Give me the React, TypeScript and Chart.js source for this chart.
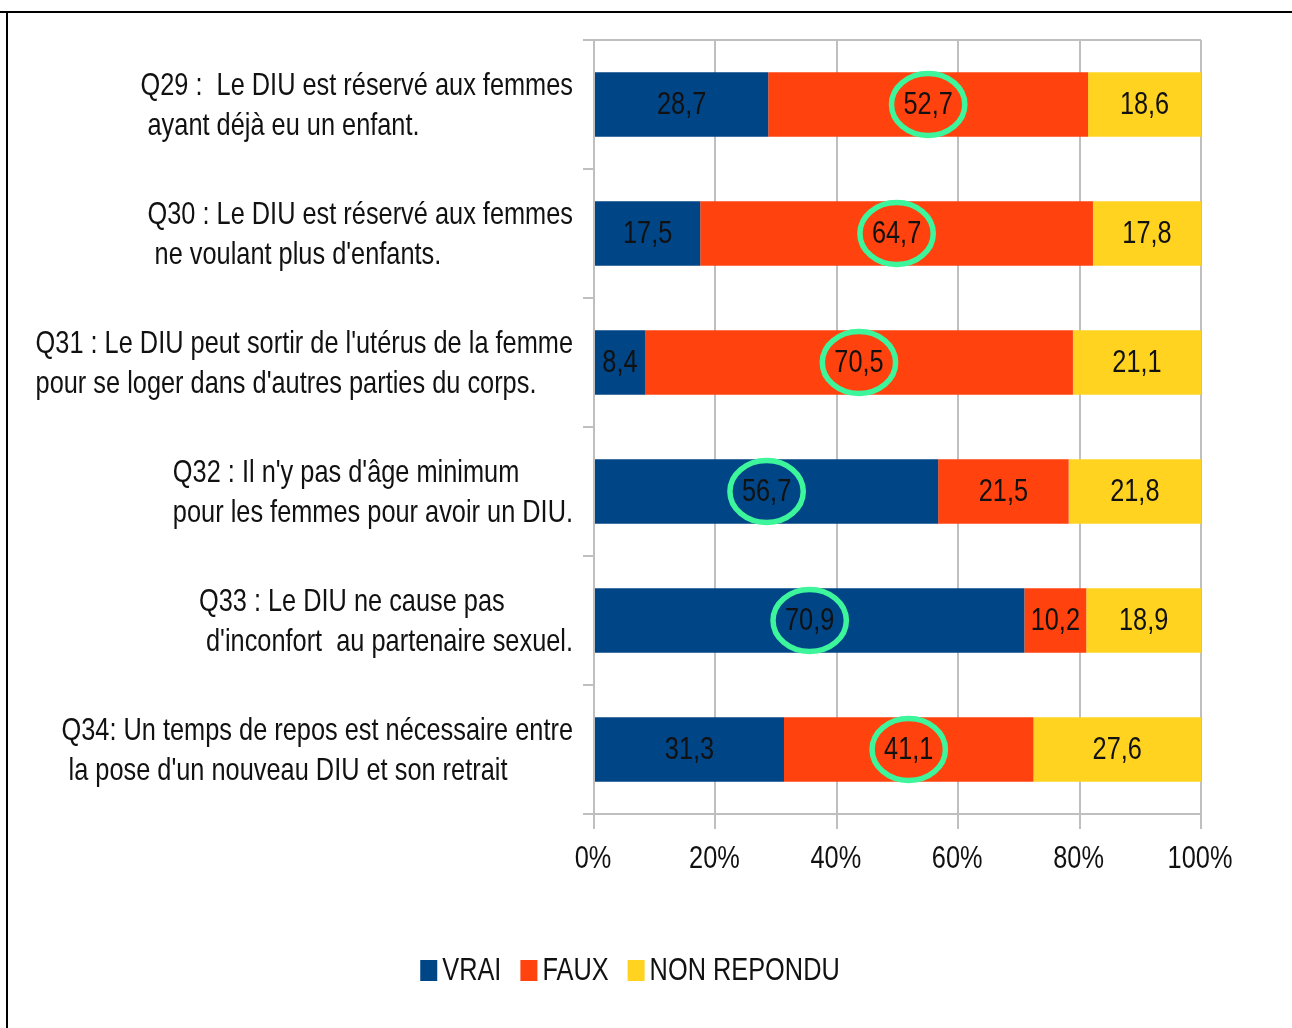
import React, { useEffect, useRef } from "react";
import { Chart, registerables } from "chart.js";

Chart.register(...registerables);

const CATEGORY_LINES: string[][] = [
  ["Q29 :  Le DIU est réservé aux femmes", " ayant déjà eu un enfant."],
  ["Q30 : Le DIU est réservé aux femmes", " ne voulant plus d'enfants."],
  ["Q31 : Le DIU peut sortir de l'utérus de la femme", "pour se loger dans d'autres parties du corps."],
  ["Q32 : Il n'y pas d'âge minimum", "pour les femmes pour avoir un DIU."],
  ["Q33 : Le DIU ne cause pas", " d'inconfort  au partenaire sexuel."],
  ["Q34: Un temps de repos est nécessaire entre", " la pose d'un nouveau DIU et son retrait"],
];

const SERIES_NAMES = ["VRAI", "FAUX", "NON REPONDU"];
const VRAI = [28.7, 17.5, 8.4, 56.7, 70.9, 31.3];
const FAUX = [52.7, 64.7, 70.5, 21.5, 10.2, 41.1];
const NON_REPONDU = [18.6, 17.8, 21.1, 21.8, 18.9, 27.6];
// index of the series whose value is circled for each question
const CIRCLED_SERIES = [1, 1, 1, 0, 0, 1];

const X_MIN = 0;
const X_MAX = 100;
const X_STEP = 20;

const COLORS = ["#004586", "#ff420e", "#ffd320"];
const FONT = "'Liberation Sans', Arial, sans-serif";
const GRID = "#bfbfbf";
const FS = 30;
const SX = 0.845; // horizontal squeeze, narrow font look
const SY = 1.05;
const TEXT = "#111111";

const fmt = (v: number) => v.toFixed(1).replace(".", ",");

function textW(ctx: CanvasRenderingContext2D, t: string) {
  return ctx.measureText(t).width * SX;
}

function drawText(ctx: CanvasRenderingContext2D, t: string, x: number, y: number, align: "left" | "center" | "right") {
  const w = textW(ctx, t);
  let left = x;
  if (align === "center") left = x - w / 2;
  else if (align === "right") left = x - w;
  ctx.save();
  ctx.translate(left, y);
  ctx.scale(SX, SY);
  ctx.textAlign = "left";
  ctx.textBaseline = "middle";
  ctx.fillText(t, 0, 0);
  ctx.restore();
}

const customPlugin = {
  id: "custom",
  beforeDraw(chart: any) {
    const ctx = chart.ctx;
    ctx.save();
    ctx.fillStyle = "#ffffff";
    ctx.fillRect(0, 0, chart.width, chart.height);
    ctx.fillStyle = "#000000";
    ctx.fillRect(0, 11, chart.width, 2);
    ctx.fillRect(6, 11, 2, chart.height - 11);
    ctx.restore();
  },
  afterDatasetsDraw(chart: any) {
    const ctx = chart.ctx;
    const area = chart.chartArea;
    const yScale = chart.scales.y;
    const xScale = chart.scales.x;
    ctx.save();
    ctx.font = `${FS}px ${FONT}`;
    ctx.fillStyle = TEXT;
    // category labels: block right-aligned, lines left-aligned
    CATEGORY_LINES.forEach((lines, i) => {
      const yc = yScale.getPixelForValue(i) + 2;
      const maxW = Math.max(...lines.map((l) => textW(ctx, l)));
      const x0 = area.left - 21 - maxW;
      const lh = 40;
      lines.forEach((l, k) => {
        drawText(ctx, l, x0, yc + (k - (lines.length - 1) / 2) * lh, "left");
      });
    });
    // x tick labels
    xScale.ticks.forEach((t: any) => {
      const x = xScale.getPixelForValue(t.value);
      drawText(ctx, `${t.value}%`, x - 1, area.bottom + 45, "center");
    });
    // value labels
    chart.data.datasets.forEach((ds: any, di: number) => {
      const meta = chart.getDatasetMeta(di);
      meta.data.forEach((bar: any, i: number) => {
        const cx = (bar.x + bar.base) / 2;
        drawText(ctx, fmt(ds.data[i]), cx, bar.y + 1, "center");
      });
    });
    // circles
    ctx.strokeStyle = "#3df59b";
    ctx.lineWidth = 5.5;
    CIRCLED_SERIES.forEach((si, i) => {
      const bar = chart.getDatasetMeta(si).data[i];
      const cx = (bar.x + bar.base) / 2;
      const w = textW(ctx, fmt(chart.data.datasets[si].data[i]));
      ctx.beginPath();
      ctx.ellipse(cx, bar.y, w / 2 + 12, 31, 0, 0, Math.PI * 2);
      ctx.stroke();
    });
    // legend
    const boxW = 17;
    const boxH = 21;
    const gapBoxText = 5;
    const gapItems = 19;
    const widths = SERIES_NAMES.map((n) => boxW + gapBoxText + textW(ctx, n));
    const total = widths.reduce((a, b) => a + b, 0) + gapItems * (widths.length - 1);
    let x = chart.width / 2 - 16 - total / 2;
    const y = 970;
    SERIES_NAMES.forEach((n, i) => {
      ctx.fillStyle = COLORS[i];
      ctx.fillRect(x, y - 10, boxW, boxH);
      ctx.fillStyle = TEXT;
      drawText(ctx, n, x + boxW + gapBoxText, y + 1, "left");
      x += widths[i] + gapItems;
    });
    ctx.restore();
  },
};

export default function App() {
  const ref = useRef<HTMLCanvasElement | null>(null);
  useEffect(() => {
    if (!ref.current) return;
    const chart = new Chart(ref.current, {
      type: "bar",
      data: {
        labels: CATEGORY_LINES.map((l) => l.join(" ")),
        datasets: [VRAI, FAUX, NON_REPONDU].map((d, i) => ({
          label: SERIES_NAMES[i],
          data: d,
          backgroundColor: COLORS[i],
          borderWidth: 0,
          barPercentage: 0.5,
          categoryPercentage: 1,
        })),
      },
      options: {
        indexAxis: "y",
        responsive: false,
        animation: false,
        devicePixelRatio: 1,
        layout: { padding: { top: 40, right: 91, left: 0, bottom: 0 } },
        plugins: { legend: { display: false }, tooltip: { enabled: false } },
        scales: {
          x: {
            stacked: true,
            min: X_MIN,
            max: X_MAX,
            afterFit: (s: any) => {
              s.height = 214;
            },
            ticks: {
              stepSize: X_STEP,
              display: false,
            },
            grid: { color: GRID, lineWidth: 2, tickLength: 15 },
            border: { display: true, color: GRID, width: 2 },
          },
          y: {
            stacked: true,
            offset: true,
            afterFit: (s: any) => {
              s.width = 594;
            },
            ticks: { display: false },
            grid: {
              offset: true,
              lineWidth: 2,
              tickLength: 11,
              color: (c: any) => (c.index === 0 || c.index === CATEGORY_LINES.length ? GRID : "rgba(0,0,0,0)"),
              tickColor: GRID,
            },
            border: { display: true, color: GRID, width: 2 },
          },
        },
      },
      plugins: [customPlugin],
    });
    return () => chart.destroy();
  }, []);
  return (
    <div style={{ position: "absolute", left: 0, top: 0, width: 1292, height: 1028, background: "#fff" }}>
      <canvas ref={ref} width={1292} height={1028} style={{ display: "block" }} />
    </div>
  );
}
